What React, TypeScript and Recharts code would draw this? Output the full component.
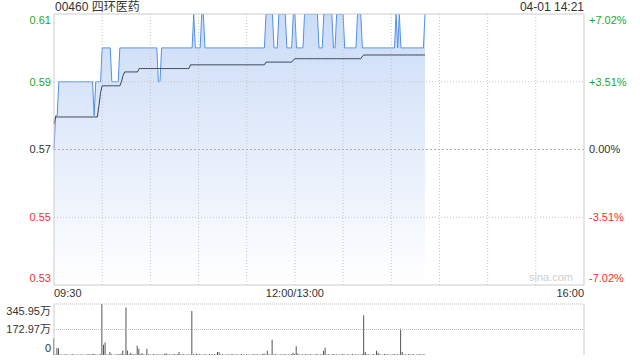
import React from 'react';
import { ComposedChart, Area, Line, XAxis, YAxis, ReferenceLine, BarChart, Bar } from 'recharts';

const prevClose = 0.57;

const priceValues = [
  0.57, 0.58, 0.58, 0.59, 0.59, 0.59, 0.59, 0.59, 0.59, 0.59,
  0.59, 0.59, 0.59, 0.59, 0.59, 0.59, 0.59, 0.59, 0.59, 0.59,
  0.59, 0.59, 0.59, 0.59, 0.59, 0.58, 0.59, 0.59, 0.59, 0.59,
  0.60, 0.60, 0.60, 0.60, 0.60, 0.60, 0.59, 0.59, 0.59, 0.59,
  0.59, 0.60, 0.60, 0.60, 0.60, 0.60, 0.60, 0.60, 0.60, 0.60,
  0.60, 0.60, 0.60, 0.60, 0.60, 0.60, 0.60, 0.60, 0.60, 0.60,
  0.60, 0.60, 0.60, 0.60, 0.60, 0.59, 0.59, 0.60, 0.60, 0.60,
  0.60, 0.60, 0.60, 0.60, 0.60, 0.60, 0.60, 0.60, 0.60, 0.60,
  0.60, 0.60, 0.60, 0.60, 0.60, 0.60, 0.60, 0.61, 0.60, 0.60,
  0.60, 0.60, 0.61, 0.61, 0.60, 0.60, 0.60, 0.60, 0.60, 0.60,
  0.60, 0.60, 0.60, 0.60, 0.60, 0.60, 0.60, 0.60, 0.60, 0.60,
  0.60, 0.60, 0.60, 0.60, 0.60, 0.60, 0.60, 0.60, 0.60, 0.60,
  0.60, 0.60, 0.60, 0.60, 0.60, 0.60, 0.60, 0.60, 0.60, 0.60,
  0.60, 0.60, 0.61, 0.61, 0.61, 0.61, 0.61, 0.60, 0.60, 0.60,
  0.61, 0.61, 0.61, 0.61, 0.61, 0.60, 0.60, 0.60, 0.60, 0.61,
  0.61, 0.60, 0.60, 0.60, 0.60, 0.60, 0.61, 0.61, 0.61, 0.61,
  0.61, 0.61, 0.61, 0.61, 0.61, 0.60, 0.60, 0.60, 0.61, 0.61,
  0.61, 0.61, 0.61, 0.61, 0.60, 0.60, 0.61, 0.61, 0.61, 0.61,
  0.61, 0.60, 0.60, 0.60, 0.60, 0.60, 0.60, 0.60, 0.60, 0.61,
  0.61, 0.61, 0.60, 0.60, 0.60, 0.60, 0.60, 0.60, 0.60, 0.60,
  0.60, 0.60, 0.60, 0.60, 0.60, 0.60, 0.60, 0.60, 0.60, 0.60,
  0.60, 0.60, 0.60, 0.61, 0.60, 0.61, 0.60, 0.60, 0.60, 0.60,
  0.60, 0.60, 0.60, 0.60, 0.60, 0.60, 0.60, 0.60, 0.60, 0.60,
  0.60, 0.61,
];

const avgValues = [
  0.5775, 0.5796, 0.5796, 0.5796, 0.5796, 0.5796, 0.5796, 0.5796, 0.5796, 0.5796,
  0.5796, 0.5796, 0.5796, 0.5796, 0.5796, 0.5796, 0.5796, 0.5796, 0.5796, 0.5796,
  0.5796, 0.5796, 0.5796, 0.5796, 0.5796, 0.5796, 0.5796, 0.5796, 0.5830, 0.5868,
  0.5888, 0.5888, 0.5888, 0.5888, 0.5888, 0.5888, 0.5888, 0.5888, 0.5888, 0.5888,
  0.5888, 0.5888, 0.5900, 0.5918, 0.5929, 0.5929, 0.5929, 0.5929, 0.5929, 0.5929,
  0.5929, 0.5929, 0.5929, 0.5939, 0.5939, 0.5939, 0.5939, 0.5939, 0.5939, 0.5939,
  0.5939, 0.5939, 0.5939, 0.5939, 0.5939, 0.5939, 0.5939, 0.5939, 0.5939, 0.5939,
  0.5939, 0.5939, 0.5939, 0.5939, 0.5939, 0.5939, 0.5939, 0.5939, 0.5939, 0.5939,
  0.5939, 0.5939, 0.5939, 0.5939, 0.5939, 0.5950, 0.5950, 0.5950, 0.5950, 0.5950,
  0.5950, 0.5950, 0.5950, 0.5950, 0.5950, 0.5950, 0.5950, 0.5950, 0.5950, 0.5950,
  0.5950, 0.5950, 0.5950, 0.5950, 0.5950, 0.5950, 0.5950, 0.5950, 0.5950, 0.5950,
  0.5950, 0.5950, 0.5950, 0.5950, 0.5950, 0.5950, 0.5950, 0.5950, 0.5950, 0.5950,
  0.5950, 0.5950, 0.5950, 0.5950, 0.5950, 0.5950, 0.5950, 0.5950, 0.5950, 0.5950,
  0.5950, 0.5950, 0.5958, 0.5958, 0.5958, 0.5958, 0.5958, 0.5958, 0.5958, 0.5958,
  0.5958, 0.5958, 0.5958, 0.5958, 0.5958, 0.5958, 0.5958, 0.5958, 0.5958, 0.5964,
  0.5968, 0.5968, 0.5968, 0.5968, 0.5968, 0.5968, 0.5968, 0.5968, 0.5968, 0.5968,
  0.5968, 0.5968, 0.5968, 0.5968, 0.5968, 0.5968, 0.5968, 0.5968, 0.5968, 0.5968,
  0.5968, 0.5968, 0.5968, 0.5968, 0.5968, 0.5968, 0.5968, 0.5968, 0.5968, 0.5968,
  0.5968, 0.5968, 0.5968, 0.5968, 0.5968, 0.5968, 0.5968, 0.5968, 0.5968, 0.5968,
  0.5968, 0.5968, 0.5975, 0.5979, 0.5979, 0.5979, 0.5979, 0.5979, 0.5979, 0.5979,
  0.5979, 0.5979, 0.5979, 0.5979, 0.5979, 0.5979, 0.5979, 0.5979, 0.5979, 0.5979,
  0.5979, 0.5979, 0.5979, 0.5979, 0.5979, 0.5979, 0.5979, 0.5979, 0.5979, 0.5979,
  0.5979, 0.5979, 0.5979, 0.5979, 0.5979, 0.5979, 0.5979, 0.5979, 0.5979, 0.5979,
  0.5979, 0.5979,
];

// volume in 万
const volumeValues = [
  113, 3, 48, 46, 4, 3, 2, 5, 3, 4, 2, 3, 6, 2, 4, 3, 2, 5, 3, 2,
  4, 3, 6, 2, 5, 8, 4, 3, 2, 6, 345.95, 70, 85, 4, 3, 21, 5, 2, 4, 3,
  6, 3, 8, 30, 4, 322, 30, 5, 15, 3, 6, 4, 62, 42, 5, 14, 3, 4, 42, 5,
  3, 2, 6, 4, 3, 5, 2, 4, 3, 6, 12, 3, 5, 2, 4, 6, 3, 5, 21, 4,
  3, 6, 2, 5, 4, 3, 298, 5, 4, 10, 3, 6, 2, 4, 5, 3, 2, 6, 4, 3,
  5, 4, 21, 18, 3, 6, 2, 4, 3, 5, 2, 6, 4, 3, 5, 2, 4, 6, 3, 2,
  5, 3, 4, 2, 6, 3, 5, 4, 2, 3, 6, 10, 4, 28, 5, 3, 104, 4, 6, 3,
  2, 5, 4, 3, 6, 2, 4, 3, 5, 15, 6, 60, 10, 4, 3, 5, 2, 6, 4, 3,
  5, 2, 4, 3, 6, 2, 5, 4, 28, 50, 3, 5, 2, 4, 6, 3, 5, 2, 4, 3,
  6, 4, 2, 5, 3, 4, 6, 2, 5, 3, 4, 2, 6, 270, 20, 5, 3, 4, 2, 6,
  3, 28, 15, 5, 2, 4, 6, 3, 5, 2, 4, 3, 6, 2, 5, 4, 180, 20, 3, 5,
  2, 6, 4, 3, 5, 2, 4, 3, 6, 2, 5, 4,
];

const priceTicks = [0.53, 0.55, 0.57, 0.59, 0.61];
const pctLabels = ['-7.02%', '-3.51%', '0.00%', '+3.51%', '+7.02%'];
const timeTicks = [0, 150, 330];
const timeLabels = ['09:30', '12:00/13:00', '16:00'];
const gridMinutes = [30, 60, 90, 120, 150, 180, 210, 240, 270, 300];
const gridPrices = [0.55, 0.59];
const volTicks = [0, 172.97, 345.95];
const volLabels = ['0', '172.97万', '345.95万'];

const title = '00460 四环医药';
const stamp = '04-01 14:21';

const data = priceValues.map((p, i) => ({ m: i, price: p, avg: avgValues[i], vol: volumeValues[i] }));

const FONT = "Arial, 'Liberation Sans', 'Noto Sans CJK SC', sans-serif";
const GREEN = '#1fa71f';
const RED = '#f03030';
const DARK = '#333333';
const BORDER = '#cccccc';
const GRID = '#c4c4c4';

const colorFor = (v: number) => (v > prevClose + 1e-6 ? GREEN : v < prevClose - 1e-6 ? RED : DARK);
const edgeShift = (v: number, ticks: number[], top: number, bottom: number) =>
  v === ticks[ticks.length - 1] ? top : v === ticks[0] ? bottom : 0;

function LeftTick(props: any) {
  const { x, y, payload } = props;
  const v = payload.value as number;
  return (
    <text x={x} y={y + edgeShift(v, priceTicks, 6, -7)} dy="0.35em" textAnchor="end" fill={colorFor(v)} fontSize={11} fontFamily={FONT}>
      {v.toFixed(2)}
    </text>
  );
}

function RightTick(props: any) {
  const { x, y, payload } = props;
  const v = payload.value as number;
  const i = priceTicks.indexOf(v);
  return (
    <text x={x} y={y + edgeShift(v, priceTicks, 6, -7)} dy="0.35em" textAnchor="start" fill={colorFor(v)} fontSize={11} fontFamily={FONT}>
      {pctLabels[i]}
    </text>
  );
}

function TimeTick(props: any) {
  const { x, y, payload } = props;
  const i = timeTicks.indexOf(payload.value);
  const anchor = i === 0 ? 'start' : i === timeTicks.length - 1 ? 'end' : 'middle';
  return (
    <text x={x} y={y} dy={12} textAnchor={anchor} fill={DARK} fontSize={11} fontFamily={FONT}>
      {timeLabels[i]}
    </text>
  );
}

function VolTick(props: any) {
  const { x, y, payload } = props;
  const v = payload.value as number;
  const i = volTicks.indexOf(v);
  return (
    <text x={x} y={y + edgeShift(v, volTicks, 7.5, -7)} dy="0.35em" textAnchor="end" fill={DARK} fontSize={11} fontFamily={FONT}>
      {volLabels[i]}
    </text>
  );
}

export default function App() {
  return (
    <div style={{ position: 'absolute', left: 0, top: 0, width: 640, height: 360, background: '#fff', fontFamily: FONT }}>
      <div style={{ position: 'absolute', left: 55, top: 1, fontSize: 12, lineHeight: '12px', color: DARK, whiteSpace: 'nowrap' }}>{title}</div>
      <div style={{ position: 'absolute', right: 56, top: 1, fontSize: 12, lineHeight: '12px', color: DARK, whiteSpace: 'nowrap' }}>{stamp}</div>
      <div style={{ position: 'absolute', left: 0, top: 0 }}>
        <ComposedChart width={640} height={300} data={data} margin={{ top: 14, right: 0, bottom: 0, left: 0 }}>
          <defs>
            <linearGradient id="areaFill" x1="0" y1="0" x2="0" y2="1">
              <stop offset="0%" stopColor="#cbdcf7" />
              <stop offset="100%" stopColor="#ffffff" />
            </linearGradient>
          </defs>
          <XAxis
            dataKey="m"
            type="number"
            domain={[0, 330]}
            ticks={timeTicks}
            interval={0}
            axisLine={{ stroke: BORDER }}
            tickLine={false}
            tickSize={0}
            tickMargin={0}
            height={15}
            tick={<TimeTick />}
          />
          <YAxis
            yAxisId="p"
            orientation="left"
            domain={[0.53, 0.61]}
            ticks={priceTicks}
            interval={0}
            width={54}
            axisLine={{ stroke: BORDER }}
            tickLine={false}
            tickSize={0}
            tickMargin={3}
            tick={<LeftTick />}
            allowDataOverflow
          />
          <YAxis
            yAxisId="r"
            orientation="right"
            domain={[0.53, 0.61]}
            ticks={priceTicks}
            interval={0}
            width={56}
            axisLine={{ stroke: BORDER }}
            tickLine={false}
            tickSize={0}
            tickMargin={5}
            tick={<RightTick />}
            allowDataOverflow
          />
          {gridMinutes.map((g) => (
            <ReferenceLine key={'v' + g} x={g} yAxisId="p" stroke={GRID} strokeDasharray="1 2" />
          ))}
          {gridPrices.map((g) => (
            <ReferenceLine key={'h' + g} y={g} yAxisId="p" stroke={GRID} strokeDasharray="1 2" />
          ))}
          <ReferenceLine y={prevClose} yAxisId="p" stroke="#b0b0b0" strokeDasharray="2 2" />
          <ReferenceLine y={0.61} yAxisId="p" stroke={BORDER} />
          <Area
            yAxisId="p"
            type="linear"
            dataKey="price"
            stroke="#5290ec"
            strokeWidth={1}
            fill="url(#areaFill)"
            fillOpacity={1}
            baseValue={0.53}
            dot={false}
            activeDot={false}
            isAnimationActive={false}
          />
          <Line
            yAxisId="p"
            type="linear"
            dataKey="avg"
            stroke="#3a4354"
            strokeWidth={1}
            dot={false}
            activeDot={false}
            isAnimationActive={false}
          />
          <Line yAxisId="r" type="linear" dataKey="price" stroke="none" dot={false} activeDot={false} isAnimationActive={false} />
        </ComposedChart>
      </div>
      <div style={{ position: 'absolute', right: 67, top: 271, fontSize: 11, lineHeight: '12px', color: '#d0d0d0' }}>sina.com</div>
      <div style={{ position: 'absolute', left: 0, top: 300 }}>
        <BarChart width={640} height={60} data={data} margin={{ top: 4, right: 56, bottom: 5, left: 0 }} barCategoryGap={0}>
          <XAxis dataKey="m" type="number" domain={[0, 330]} hide />
          <YAxis
            domain={[0, 345.95]}
            ticks={volTicks}
            interval={0}
            width={54}
            axisLine={{ stroke: BORDER }}
            tickLine={false}
            tickSize={0}
            tickMargin={3}
            tick={<VolTick />}
            allowDataOverflow
          />
          <ReferenceLine y={345.95} stroke="#bdbdbd" strokeDasharray="1 1" />
          <ReferenceLine y={172.97} stroke="#bdbdbd" strokeDasharray="1 1" />
          <ReferenceLine x={330} stroke={BORDER} />
          <Bar dataKey="vol" fill="#555555" barSize={1} isAnimationActive={false} />
        </BarChart>
      </div>
    </div>
  );
}
